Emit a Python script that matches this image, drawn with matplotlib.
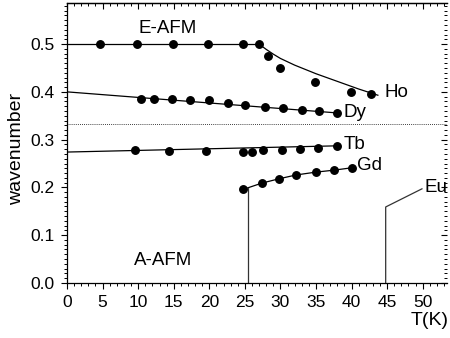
import matplotlib
matplotlib.use("Agg")
import matplotlib.pyplot as plt
from matplotlib.ticker import MultipleLocator, NullFormatter

plt.rcParams['font.family'] = ['Liberation Sans', 'DejaVu Sans']

# E-AFM plateau (Ho) at q = 0.5
eafm_T = [4.6, 9.8, 14.9, 19.8, 24.7, 27.0]
eafm_q = [0.5, 0.5, 0.5, 0.5, 0.5, 0.5]
eafm_line_T = [0, 27.0]
eafm_line_q = [0.5, 0.5]

# Ho below 27 K
ho_T = [28.2, 29.9, 34.8, 39.9, 42.8]
ho_q = [0.475, 0.450, 0.420, 0.400, 0.395]
ho_curve_T = [27.0, 28.0, 29.0, 30.0, 32.0, 35.0, 38.0, 41.0, 43.7]
ho_curve_q = [0.500, 0.489, 0.479, 0.470, 0.456, 0.438, 0.422, 0.406, 0.393]

# Dy
dy_T = [10.4, 12.2, 14.7, 17.3, 19.9, 22.6, 25.0, 27.8, 30.3, 33.0, 35.4, 37.9]
dy_q = [0.385, 0.385, 0.385, 0.384, 0.383, 0.377, 0.372, 0.368, 0.366, 0.362, 0.360, 0.356]
dy_line_T = [0, 37.9]
dy_line_q = [0.400, 0.356]

# Tb
tb_T = [9.6, 14.3, 19.5, 24.7, 26.0, 27.5, 30.2, 32.7, 35.3, 37.9]
tb_q = [0.278, 0.276, 0.276, 0.274, 0.274, 0.278, 0.278, 0.280, 0.282, 0.287]
tb_line_T = [0, 37.9]
tb_line_q = [0.274, 0.287]

# Gd
gd_T = [24.7, 27.4, 29.8, 32.2, 35.0, 37.5, 40.0]
gd_q = [0.197, 0.209, 0.218, 0.226, 0.232, 0.236, 0.241]
gd_line_T = [25.4, 27.4, 29.8, 32.2, 35.0, 37.5, 40.0]
gd_line_q = [0.199, 0.209, 0.218, 0.226, 0.232, 0.236, 0.241]
gd_vert_T = [25.4, 25.4]
gd_vert_q = [0.0, 0.199]

# Eu
eu_line_T = [44.8, 44.8, 49.9]
eu_line_q = [0.0, 0.159, 0.197]

# commensurate 1/3
third_q = 1 / 3

x_ticks = [0, 5, 10, 15, 20, 25, 30, 35, 40, 45, 50]
y_ticks = [0.0, 0.1, 0.2, 0.3, 0.4, 0.5]

fig = plt.figure(figsize=(4.5, 3.38), dpi=100)
ax = fig.add_axes([0.149, 0.163, 0.844, 0.828])

lw = 0.9
ms = 5.4
ax.plot(eafm_line_T, eafm_line_q, color='black', lw=lw)
ax.plot(ho_curve_T, ho_curve_q, color='black', lw=lw)
ax.plot(dy_line_T, dy_line_q, color='black', lw=lw)
ax.plot(tb_line_T, tb_line_q, color='black', lw=lw)
ax.plot(gd_line_T, gd_line_q, color='black', lw=lw)
ax.plot(gd_vert_T, gd_vert_q, color='#333333', lw=lw)
ax.plot(eu_line_T, eu_line_q, color='#333333', lw=lw)
ax.axhline(third_q, color='black', lw=0.6, ls=(0, (1, 1.5)))

for T, q in [(eafm_T, eafm_q), (ho_T, ho_q), (dy_T, dy_q), (tb_T, tb_q), (gd_T, gd_q)]:
    ax.plot(T, q, 'o', color='black', ms=ms, ls='none')

fs = 13.5
ax.text(38.9, 0.357, 'Dy', fontsize=fs, va='center', ha='left')
ax.text(44.7, 0.399, 'Ho', fontsize=fs, va='center', ha='left')
ax.text(38.9, 0.289, 'Tb', fontsize=fs, va='center', ha='left')
ax.text(40.8, 0.245, 'Gd', fontsize=fs, va='center', ha='left')
ax.text(50.2, 0.200, 'Eu', fontsize=fs, va='center', ha='left')
ax.text(14.1, 0.533, 'E-AFM', fontsize=fs, va='center', ha='center')
ax.text(13.5, 0.046, 'A-AFM', fontsize=fs, va='center', ha='center')

ax.set_xlim(0, 53.4)
ax.set_ylim(0, 0.586)
ax.set_xticks(x_ticks)
ax.set_yticks(y_ticks)
ax.set_yticklabels([f'{v:.1f}' for v in y_ticks])
ax.xaxis.set_minor_locator(MultipleLocator(1))
ax.yaxis.set_minor_locator(MultipleLocator(0.01))
ax.tick_params(axis='both', which='major', direction='out', length=4, width=0.8,
               labelsize=12.5, top=False, right=False)
ax.tick_params(axis='both', which='minor', direction='out', length=2.2, width=0.7,
               top=False, right=False)
ax.tick_params(axis='x', which='major', pad=5)
ax.tick_params(axis='y', which='major', pad=5)
ax.spines['right'].set_visible(False)
for s in ['left', 'bottom', 'top']:
    ax.spines[s].set_linewidth(0.9)

secx = ax.secondary_xaxis('top')
secx.set_xticks(x_ticks)
secx.xaxis.set_minor_locator(MultipleLocator(1))
secx.xaxis.set_major_formatter(NullFormatter())
secx.tick_params(which='major', direction='in', length=4, width=0.8)
secx.tick_params(which='minor', direction='in', length=2.2, width=0.7)
secx.spines['top'].set_linewidth(0.9)

secy = ax.secondary_yaxis('right')
secy.set_yticks(y_ticks)
secy.yaxis.set_minor_locator(MultipleLocator(0.01))
secy.yaxis.set_major_formatter(NullFormatter())
secy.tick_params(which='major', direction='in', length=4, width=0.8)
secy.tick_params(which='minor', direction='in', length=2.2, width=0.7)
secy.spines['right'].set_visible(False)

fig.text(449 / 450, 1 - 325 / 338, 'T(K)', fontsize=14, ha='right', va='baseline')
fig.text(17 / 450, 1 - 149 / 338, 'wavenumber', fontsize=14, rotation=90,
         ha='center', va='center')

fig.savefig('out.png', dpi=100)
